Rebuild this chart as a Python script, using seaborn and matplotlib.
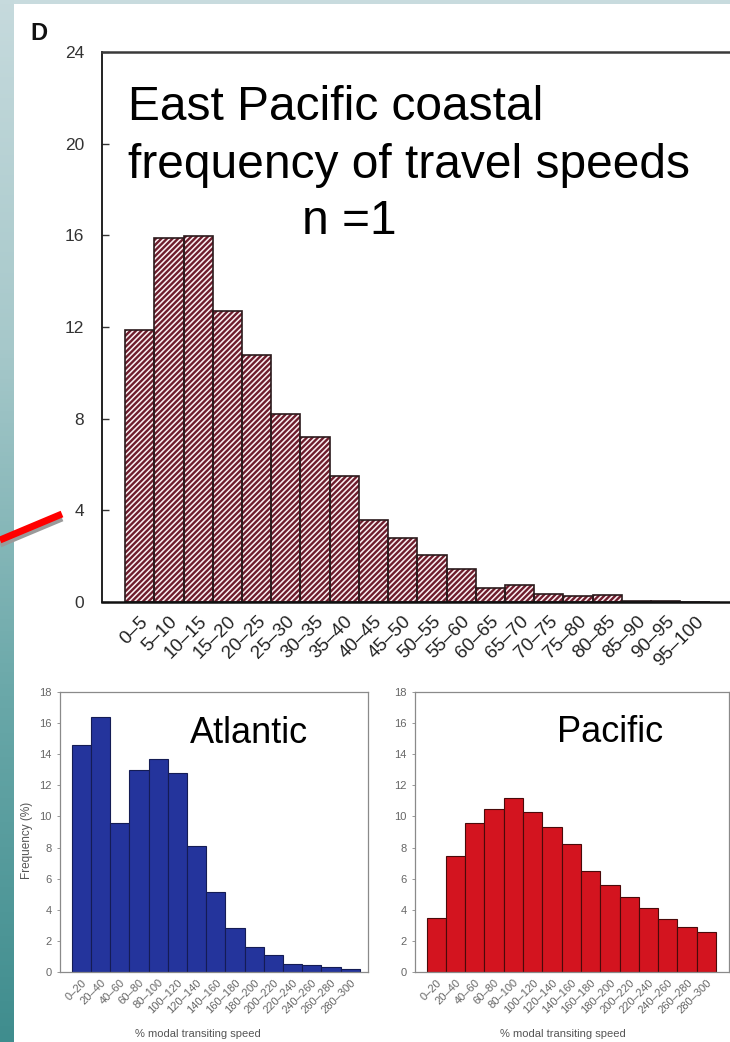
import numpy as np
import pandas as pd
import matplotlib
matplotlib.use("Agg")
import matplotlib.pyplot as plt
from matplotlib.patches import Rectangle
from matplotlib.lines import Line2D
from matplotlib.colors import LinearSegmentedColormap
import seaborn as sns

# ---- data -------------------------------------------------------------
coastal_bins = ["0–5", "5–10", "10–15", "15–20", "20–25", "25–30", "30–35",
                "35–40", "40–45", "45–50", "50–55", "55–60", "60–65", "65–70",
                "70–75", "75–80", "80–85", "85–90", "90–95", "95–100"]
coastal_freq = [11.85, 15.9, 15.95, 12.7, 10.8, 8.2, 7.2, 5.5, 3.6, 2.8,
                2.05, 1.45, 0.6, 0.75, 0.35, 0.25, 0.3, 0.05, 0.05, 0.0]

speed_bins = ["0–20", "20–40", "40–60", "60–80", "80–100", "100–120",
              "120–140", "140–160", "160–180", "180–200", "200–220",
              "220–240", "240–260", "260–280", "280–300"]
atlantic_freq = [14.6, 16.4, 9.55, 13.0, 13.7, 12.8, 8.1, 5.15, 2.85, 1.6,
                 1.1, 0.5, 0.45, 0.35, 0.2]
pacific_freq = [3.45, 7.45, 9.55, 10.5, 11.2, 10.3, 9.35, 8.25, 6.5, 5.6,
                4.8, 4.1, 3.4, 2.9, 2.6]

coastal_ticks = [0, 4, 8, 12, 16, 20, 24]
ocean_ticks = list(range(0, 19, 2))

# ---- style ------------------------------------------------------------
sns.set_theme(style="white")
plt.rcParams["font.family"] = ["Liberation Sans", "DejaVu Sans"]
plt.rcParams["hatch.linewidth"] = 1.7

W, H = 730, 1042
fig = plt.figure(figsize=(W / 100, H / 100), dpi=100)
fig.patch.set_facecolor("#c8dbde")


def px_axes(x0, y0, x1, y1, **kw):
    """Axes placed by pixel box (top-left origin)."""
    return fig.add_axes([x0 / W, 1 - y1 / H, (x1 - x0) / W, (y1 - y0) / H], **kw)


def fx(x):
    return x / W


def fy(y):
    return 1 - y / H


# slide backdrop: shaded strip on the left, white panel
strip = px_axes(0, 0, 14, H, zorder=-10)
strip.set_axis_off()
strip_cmap = LinearSegmentedColormap.from_list(
    "strip", ["#c6dadd", "#a6c8ca", "#6aa8a9", "#3f8d8e"])
strip.imshow(np.linspace(0, 1, 256).reshape(-1, 1), aspect="auto",
             cmap=strip_cmap, extent=[0, 1, 0, 1], origin="upper")
fig.add_artist(Rectangle((fx(14), 0), 1 - fx(14), fy(4), transform=fig.transFigure,
                         facecolor="white", edgecolor="none", zorder=-5))

# pointer line from the slide
fig.add_artist(Line2D([fx(0), fx(62)], [fy(544), fy(518)], transform=fig.transFigure,
                      color="#9a9a9a", lw=5, solid_capstyle="butt", zorder=4))
fig.add_artist(Line2D([fx(0), fx(62)], [fy(540), fy(514)], transform=fig.transFigure,
                      color="#ff0000", lw=5, solid_capstyle="butt", zorder=5))

# ---- East Pacific coastal histogram -----------------------------------
ax = px_axes(102, 52, 733, 602)
coastal = pd.DataFrame({"bin": coastal_bins, "freq": coastal_freq})
sns.barplot(data=coastal, x="bin", y="freq", ax=ax, color="#fbf0f2",
            saturation=1, width=1.0, edgecolor="#6e1d2d", linewidth=0,
            hatch="//////")
sns.barplot(data=coastal, x="bin", y="freq", ax=ax, color="#2b1a1c",
            saturation=1, width=1.0, fill=False, linewidth=1.2)
ax.set_xlim(-1.29, 20.3)
ax.set_ylim(0, 24)
ax.set_yticks(coastal_ticks)
ax.set_xlabel("")
ax.set_ylabel("")
for side in ["left", "bottom", "top"]:
    ax.spines[side].set_visible(True)
    ax.spines[side].set_color("#111111")
ax.spines["right"].set_visible(False)
ax.spines["left"].set_linewidth(1.3)
ax.spines["bottom"].set_linewidth(1.8)
ax.spines["top"].set_linewidth(1.8)
ax.spines["top"].set_color("#3a3a3a")
ax.tick_params(axis="y", direction="in", length=5, width=1, color="#333333",
               labelsize=12.5, labelcolor="#333333", pad=13, left=True)
ax.tick_params(axis="x", length=0, labelsize=13.5, labelcolor="#222222", pad=8)
for lab in ax.get_xticklabels():
    lab.set_rotation(45)
    lab.set_ha("right")
    lab.set_rotation_mode("anchor")

fig.text(fx(30), fy(40), "D", fontsize=17, fontweight="bold", color="#111111")
fig.text(fx(128), fy(120), "East Pacific coastal", fontsize=34.5, color="black")
fig.text(fx(128), fy(178), "frequency of travel speeds", fontsize=34.5, color="black")
fig.text(fx(302), fy(234), "n =1", fontsize=34.5, color="black")

# ---- Atlantic / Pacific transiting speed histograms --------------------
panels = [
    dict(box=(60, 692, 368, 972), freq=atlantic_freq, color="#24349c",
         edge="#141c55", name="Atlantic", name_xy=(190, 743),
         xlim=(-1.11, 14.93), xlab_x=198),
    dict(box=(415, 692, 729, 972), freq=pacific_freq, color="#d3141f",
         edge="#4a0a0a", name="Pacific", name_xy=(557, 742),
         xlim=(-1.10, 15.17), xlab_x=563),
]

for i, p in enumerate(panels):
    x0, y0, x1, y1 = p["box"]
    bax = px_axes(x0, y0, x1, y1)
    sns.barplot(x=speed_bins, y=p["freq"], ax=bax, color=p["color"],
                saturation=1, width=1.0, edgecolor=p["edge"], linewidth=0.8)
    bax.set_xlim(*p["xlim"])
    bax.set_ylim(0, 18)
    bax.set_yticks(ocean_ticks)
    for s in bax.spines.values():
        s.set_visible(True)
        s.set_color("#8a8a8a")
        s.set_linewidth(0.9)
    bax.tick_params(axis="y", direction="out", length=2, width=0.6, color="#888888",
                    labelsize=8, labelcolor="#666666", pad=4, left=True)
    bax.tick_params(axis="x", length=0, labelsize=8, labelcolor="#666666", pad=4)
    for lab in bax.get_xticklabels():
        lab.set_rotation(45)
        lab.set_ha("right")
        lab.set_rotation_mode("anchor")
    bax.set_xlabel("% modal transiting speed", fontsize=8, color="#555555")
    bax.xaxis.set_label_coords((p["xlab_x"] - x0) / (x1 - x0), (y1 - 1034) / (y1 - y0))
    bax.xaxis.label.set_va("center")
    if i == 0:
        bax.set_ylabel("Frequency (%)", fontsize=8.5, color="#555555")
        bax.yaxis.set_label_coords((27 - x0) / (x1 - x0), (y1 - 840) / (y1 - y0))
        bax.yaxis.label.set_va("center")
    else:
        bax.set_ylabel("")
    nx, ny = p["name_xy"]
    fig.text(fx(nx), fy(ny), p["name"], fontsize=26, color="black")

fig.savefig("out.png", dpi=100, facecolor=fig.get_facecolor())
